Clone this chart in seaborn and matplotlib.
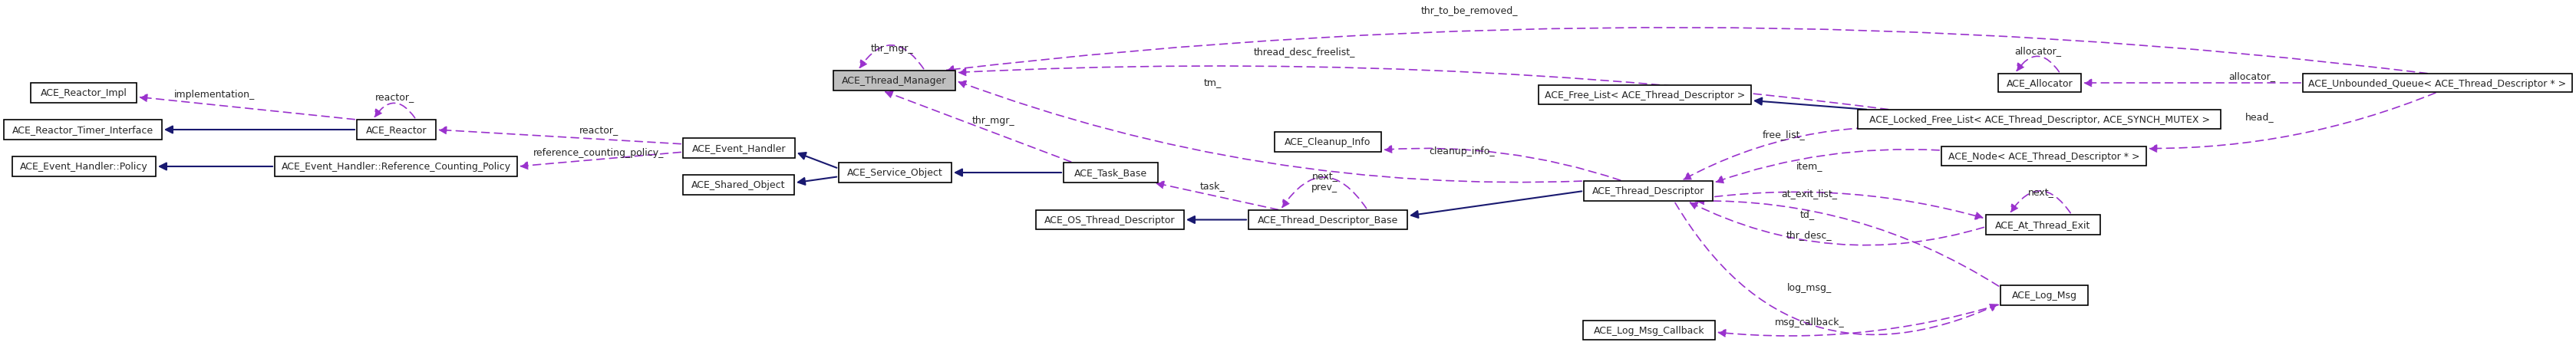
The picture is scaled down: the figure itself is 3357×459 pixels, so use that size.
import matplotlib
matplotlib.use("Agg")
import matplotlib.pyplot as plt
import seaborn as sns
from matplotlib.patches import Rectangle, FancyArrowPatch

sns.set_theme(style="white")
plt.rcParams["font.family"] = ["DejaVu Sans Condensed", "Liberation Sans Narrow", "DejaVu Sans"]

# class boxes: name -> (x0, y0, x1, y1) in pixel space of the graph
boxes = {
    "ACE_Reactor_Impl": (40, 109, 178, 135),
    "ACE_Reactor_Timer_Interface": (5, 157, 211, 183),
    "ACE_Reactor": (465, 157, 568, 183),
    "ACE_Event_Handler::Policy": (16, 205, 203, 231),
    "ACE_Event_Handler::Reference_Counting_Policy": (358, 205, 674, 231),
    "ACE_Event_Handler": (890, 181, 1036, 207),
    "ACE_Shared_Object": (890, 229, 1035, 255),
    "ACE_Service_Object": (1093, 213, 1240, 239),
    "ACE_Task_Base": (1386, 213, 1509, 239),
    "ACE_Thread_Manager": (1086, 93, 1245, 119),
    "ACE_OS_Thread_Descriptor": (1350, 275, 1543, 300),
    "ACE_Thread_Descriptor_Base": (1627, 275, 1834, 300),
    "ACE_Cleanup_Info": (1661, 173, 1800, 199),
    "ACE_Thread_Descriptor": (2064, 237, 2232, 263),
    "ACE_Free_List< ACE_Thread_Descriptor >": (2005, 112, 2282, 137),
    "ACE_Locked_Free_List< ACE_Thread_Descriptor, ACE_SYNCH_MUTEX >": (2421, 144, 2894, 169),
    "ACE_Allocator": (2604, 97, 2712, 121),
    "ACE_Unbounded_Queue< ACE_Thread_Descriptor * >": (3001, 97, 3352, 121),
    "ACE_Node< ACE_Thread_Descriptor * >": (2530, 192, 2797, 217),
    "ACE_At_Thread_Exit": (2588, 281, 2737, 307),
    "ACE_Log_Msg": (2607, 373, 2721, 399),
    "ACE_Log_Msg_Callback": (2063, 419, 2235, 444),
}
main_class = "ACE_Thread_Manager"

# inheritance: (derived, derived side, base, base side)
inherit = [
    ("ACE_Reactor", ("l", .5), "ACE_Reactor_Timer_Interface", ("r", .5)),
    ("ACE_Event_Handler::Reference_Counting_Policy", ("l", .5), "ACE_Event_Handler::Policy", ("r", .5)),
    ("ACE_Service_Object", ("l", .3), "ACE_Event_Handler", ("r", .7)),
    ("ACE_Service_Object", ("l", .7), "ACE_Shared_Object", ("r", .4)),
    ("ACE_Task_Base", ("l", .5), "ACE_Service_Object", ("r", .5)),
    ("ACE_Thread_Descriptor_Base", ("l", .5), "ACE_OS_Thread_Descriptor", ("r", .5)),
    ("ACE_Thread_Descriptor", ("l", .5), "ACE_Thread_Descriptor_Base", ("r", .3)),
    ("ACE_Locked_Free_List< ACE_Thread_Descriptor, ACE_SYNCH_MUTEX >", ("t", .03),
     "ACE_Free_List< ACE_Thread_Descriptor >", ("r", .8)),
]

# usage: (owner, side, used, side, curvature, label, label position)
usage = [
    ("ACE_Reactor", ("t", .0), "ACE_Reactor_Impl", ("r", .7), 0.0, "implementation_", (280, 124)),
    ("ACE_Event_Handler", ("l", .3), "ACE_Reactor", ("r", .5), 0.0, "reactor_", (780, 170)),
    ("ACE_Event_Handler", ("l", .7), "ACE_Event_Handler::Reference_Counting_Policy", ("r", .5), 0.0,
     "reference_counting_policy_", (780, 200)),
    ("ACE_Task_Base", ("t", .1), "ACE_Thread_Manager", ("b", .4), 0.0, "thr_mgr_", (1295, 158)),
    ("ACE_Thread_Descriptor", ("t", .0), "ACE_Thread_Manager", ("r", .5), -0.1, "tm_", (1580, 108)),
    ("ACE_Locked_Free_List< ACE_Thread_Descriptor, ACE_SYNCH_MUTEX >", ("t", .09), "ACE_Thread_Manager",
     ("r", .1), 0.045, "thread_desc_freelist_", (1700, 68)),
    ("ACE_Unbounded_Queue< ACE_Thread_Descriptor * >", ("t", .47), "ACE_Thread_Manager", ("t", .9), 0.06,
     "thr_to_be_removed_", (1915, 14)),
    ("ACE_Unbounded_Queue< ACE_Thread_Descriptor * >", ("l", .5), "ACE_Allocator", ("r", .5), 0.0,
     "allocator_", (2935, 100)),
    ("ACE_Unbounded_Queue< ACE_Thread_Descriptor * >", ("b", .5), "ACE_Node< ACE_Thread_Descriptor * >",
     ("r", .1), -0.1, "head_", (2945, 153)),
    ("ACE_Locked_Free_List< ACE_Thread_Descriptor, ACE_SYNCH_MUTEX >", ("b", .2), "ACE_Thread_Descriptor",
     ("t", .75), 0.15, "free_list_", (2325, 176)),
    ("ACE_Node< ACE_Thread_Descriptor * >", ("l", .2), "ACE_Thread_Descriptor", ("r", .1), 0.1,
     "item_", (2358, 217)),
    ("ACE_Thread_Descriptor", ("t", .3), "ACE_Cleanup_Info", ("r", .9), 0.1, "cleanup_info_", (1905, 198)),
    ("ACE_Thread_Descriptor_Base", ("t", .2), "ACE_Task_Base", ("b", .95), 0.0, "task_", (1580, 243)),
    ("ACE_Thread_Descriptor", ("r", .8), "ACE_At_Thread_Exit", ("l", .2), -0.1, "at_exit_list_", (2358, 253)),
    ("ACE_At_Thread_Exit", ("l", .6), "ACE_Thread_Descriptor", ("b", .8), -0.2, "td_", (2355, 280)),
    ("ACE_Log_Msg", ("l", .1), "ACE_Thread_Descriptor", ("b", .85), 0.15, "thr_desc_", (2358, 307)),
    ("ACE_Thread_Descriptor", ("b", .7), "ACE_Log_Msg", ("l", .9), 0.45, "log_msg_", (2358, 376)),
    ("ACE_Log_Msg", ("l", .95), "ACE_Log_Msg_Callback", ("r", .6), -0.1, "msg_callback_", (2358, 421)),
]

# self references: (class, label)
self_refs = [
    ("ACE_Reactor", "reactor_"),
    ("ACE_Thread_Manager", "thr_mgr_"),
    ("ACE_Allocator", "allocator_"),
    ("ACE_Thread_Descriptor_Base", "next_\nprev_"),
    ("ACE_At_Thread_Exit", "next_"),
]

NAVY = "#191970"
PURPLE = "#9a32cd"
FS = 11


def anchor(name, spec):
    x0, y0, x1, y1 = boxes[name]
    side, f = spec
    if side == "l":
        return (x0, y0 + f * (y1 - y0))
    if side == "r":
        return (x1, y0 + f * (y1 - y0))
    if side == "t":
        return (x0 + f * (x1 - x0), y0)
    return (x0 + f * (x1 - x0), y1)


fig, ax = plt.subplots(figsize=(33.57, 4.6), dpi=100)
fig.subplots_adjust(0, 0, 1, 1)
ax.set_xlim(0, 3357)
ax.set_ylim(460, 0)
ax.axis("off")
renderer = fig.canvas.get_renderer()

# one font size for all class names: the largest that fits every box
fs = FS
for name, (x0, y0, x1, y1) in boxes.items():
    t = ax.text(0, 0, name, fontsize=fs)
    while t.get_window_extent(renderer).width > (x1 - x0) - 12 and fs > 5:
        fs -= 0.25
        t.set_fontsize(fs)
    t.remove()

for name, (x0, y0, x1, y1) in boxes.items():
    fc = "#bfbfbf" if name == main_class else "white"
    ax.add_patch(Rectangle((x0, y0), x1 - x0, y1 - y0, fc=fc, ec="black", lw=1.2, zorder=3))
    ax.text((x0 + x1) / 2, (y0 + y1) / 2, name, ha="center", va="center", fontsize=fs, zorder=4)

for src, ss, dst, ds in inherit:
    ax.add_patch(FancyArrowPatch(anchor(src, ss), anchor(dst, ds), arrowstyle="-|>", mutation_scale=16,
                                 color=NAVY, lw=1.5, zorder=2))

for src, ss, dst, ds, rad, label, (lx, ly) in usage:
    ax.add_patch(FancyArrowPatch(anchor(src, ss), anchor(dst, ds), arrowstyle="-|>", mutation_scale=16,
                                 color=PURPLE, lw=1.2, linestyle=(0, (6, 4)),
                                 connectionstyle=f"arc3,rad={rad}", zorder=2))
    ax.text(lx, ly, label, ha="center", va="center", fontsize=fs)

for name, label in self_refs:
    x0, y0, x1, y1 = boxes[name]
    w = x1 - x0
    p_start = (x0 + 0.75 * w, y0)
    p_end = (x0 + 0.2 * w, y0)
    ax.add_patch(FancyArrowPatch(p_start, p_end, arrowstyle="-|>", mutation_scale=16, color=PURPLE,
                                 lw=1.2, linestyle=(0, (6, 4)), connectionstyle="arc3,rad=0.75", zorder=2))
    ax.text(x0 + 0.48 * w, y0 - 30 if "\n" not in label else y0 - 38, label, ha="center", va="center",
            fontsize=fs)

fig.savefig("out.png", dpi=100, facecolor="white")
